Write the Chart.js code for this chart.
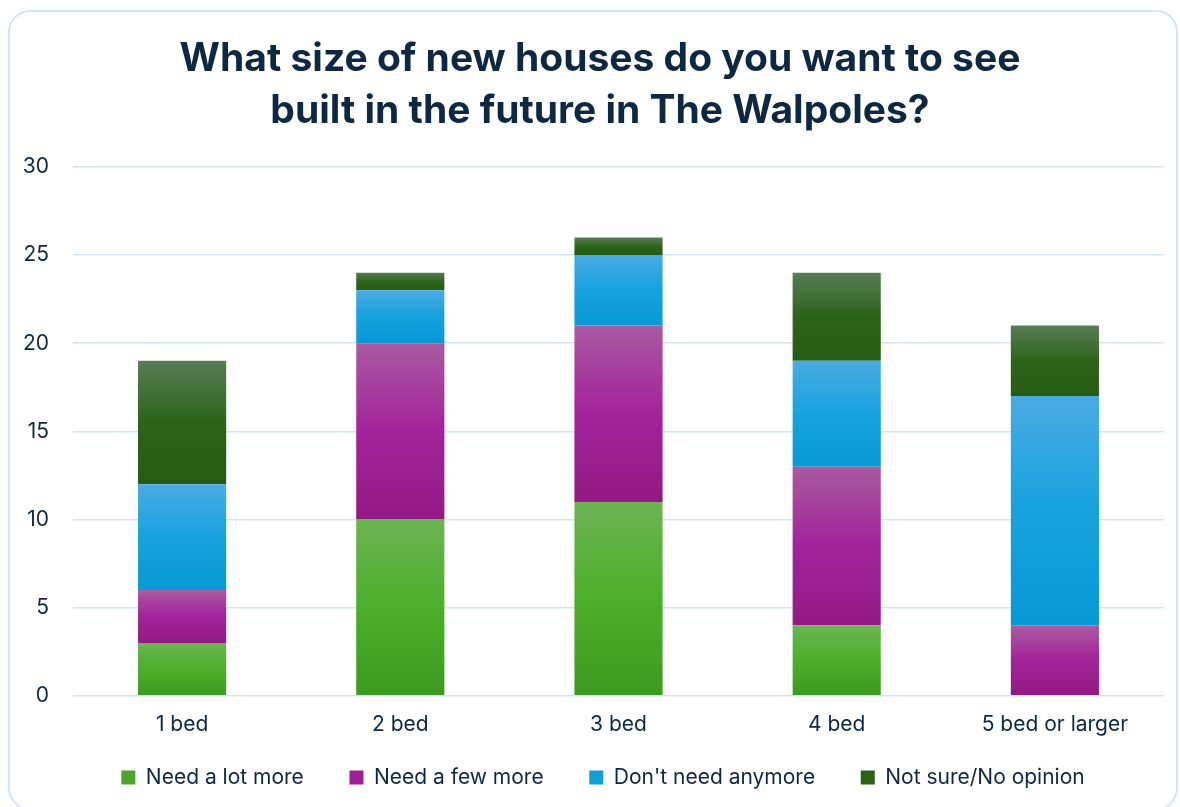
<!DOCTYPE html>
<html>
<head>
<meta charset="utf-8">
<script src="https://cdn.jsdelivr.net/npm/chart.js@4"></script>
<style>
html,body{margin:0;padding:0;background:#fff;overflow:hidden;}
.card{position:absolute;left:8px;top:10px;width:1170px;height:800px;border:2px solid #d3e3f6;border-radius:22px;box-sizing:border-box;}
.wrap{position:absolute;left:0;top:0;width:1180px;height:807px;}
</style>
</head>
<body>
<div class="card"></div>
<div class="wrap"><canvas id="c" width="1180" height="807"></canvas></div>
<script>
const categories=['1 bed','2 bed','3 bed','4 bed','5 bed or larger'];
const seriesNames=['Need a lot more','Need a few more',"Don't need anymore",'Not sure/No opinion'];
const lotMore=[3,10,11,4,0];
const fewMore=[3,10,10,9,4];
const dontNeed=[6,3,4,6,13];
const notSure=[7,1,1,5,4];
const yTicks=[0,5,10,15,20,25,30];

// top / middle / bottom shades for each series
const shades=[
  ['#6cb452','#4caf2a','#3c9a1f'],
  ['#aa5aa2','#a3239b','#921a83'],
  ['#4aabe2','#16a2df','#0799d6'],
  ['#587d55','#2d6419','#255b12']
];
const legendCols=['#4aa528','#a01f96','#0fa0dc','#2b6214'];
const allSeries=[lotMore,fewMore,dontNeed,notSure];

function fill(ctx){
  const chart=ctx.chart, y=chart.scales.y;
  const di=ctx.datasetIndex, i=ctx.dataIndex;
  if(!y||i===undefined) return legendCols[di];
  let base=0;
  for(let k=0;k<di;k++) base+=allSeries[k][i];
  const top=base+allSeries[di][i];
  const y0=y.getPixelForValue(top), y1=y.getPixelForValue(base);
  if(!isFinite(y0)||!isFinite(y1)||y0===y1) return legendCols[di];
  const g=chart.ctx.createLinearGradient(0,y0,0,y1);
  g.addColorStop(0,shades[di][0]);
  g.addColorStop(0.5,shades[di][1]);
  g.addColorStop(1,shades[di][2]);
  return g;
}

// extra gap after legend entries without growing the legend's height
const gap='\u00a0\u00a0\u00a0\u00a0';

// nudge title and legend a little right, as in the original
const nudge={id:'nudge',afterLayout(chart){
  const t=chart.titleBlock, l=chart.legend;
  if(t){t.left+=8;t.right+=8;}
  if(l){l.left+=11;l.right+=11;}
}};

const txt='#0e2841';
new Chart(document.getElementById('c'),{
  type:'bar',
  data:{labels:categories,datasets:allSeries.map((d,k)=>({
    label:seriesNames[k],data:d,backgroundColor:fill,borderWidth:0,
    categoryPercentage:0.8,barPercentage:0.505
  }))},
  plugins:[nudge],
  options:{
    responsive:false,animation:false,
    layout:{padding:{left:20,right:16,top:20,bottom:9}},
    plugins:{
      title:{display:true,text:['What size of new houses do you want to see','built in the future in The Walpoles?'],
        color:txt,font:{family:'Inter',size:39,weight:'bold',lineHeight:1.32},padding:{top:14,bottom:30}},
      legend:{position:'bottom',labels:{color:txt,font:{family:'Inter',size:21},boxWidth:14,boxHeight:14,padding:22,
        generateLabels:(chart)=>seriesNames.map((n,k)=>({text:k<seriesNames.length-1?n+gap:n,fillStyle:legendCols[k],strokeStyle:legendCols[k],lineWidth:0,datasetIndex:k,fontColor:txt}))}},
      tooltip:{enabled:false}
    },
    scales:{
      x:{stacked:true,grid:{display:false},border:{display:false},
        ticks:{color:txt,font:{family:'Inter',size:21},padding:8}},
      y:{stacked:true,min:0,max:30,afterBuildTicks:(s)=>{s.ticks=yTicks.map(v=>({value:v}));},
        afterFit:(s)=>{s.width=53;},
        grid:{color:'#d3e3f6',lineWidth:1.5,drawTicks:false},border:{display:false},
        ticks:{color:txt,font:{family:'Inter',size:21},padding:24}}
    }
  }
});
</script>
</body>
</html>
